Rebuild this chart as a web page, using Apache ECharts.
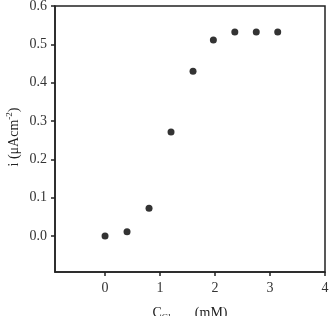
<!DOCTYPE html>
<html>
<head>
<meta charset="utf-8">
<script src="https://cdn.jsdelivr.net/npm/echarts@6/dist/echarts.min.js"></script>
<style>
html, body { margin: 0; padding: 0; background: #fff; }
#cn { width: 333px; height: 316px; }
</style>
</head>
<body>
<div id="cn"></div>
<script>
'use strict';

// glucose concentration (mM) and current (uA cm-2)
const concGlucose = [0, 0.4, 0.8, 1.2, 1.6, 1.97, 2.36, 2.75, 3.14];
const currentVals = [0, 0.011, 0.072, 0.271, 0.43, 0.511, 0.532, 0.532, 0.532];
const xTicks = [0, 1, 2, 3, 4];
const yTicks = [0, 0.1, 0.2, 0.3, 0.4, 0.5, 0.6];

const FONT = '"Liberation Serif", "DejaVu Serif", serif';

const chart = echarts.init(document.getElementById('cn'));

const option = {
	animation: false,
	grid: {
		left: 55,
		top: 6,
		right: 8,
		bottom: 44,
		outerBoundsMode: 'none',
		containLabel: false,
		show: true,
		borderColor: '#222',
		borderWidth: 1.5
	},
	// y title as free text: axis name gets pushed away from the labels in v6
	graphic: [{
		type: 'text',
		x: 14,
		y: 137,
		rotation: Math.PI / 2,
		style: {
			text: '{a|i (μAcm}{sup|-2}{a|)}',
			align: 'center',
			verticalAlign: 'middle',
			rich: {
				a: { fontFamily: FONT, fontSize: 14, fill: '#222' },
				sup: { fontFamily: FONT, fontSize: 9, fill: '#222', padding: [0, 0, 8, 0] }
			}
		}
	}],
	xAxis: {
		type: 'value',
		min: -0.91,
		max: 4,
		splitLine: { show: false },
		axisLine: { onZero: false, lineStyle: { color: '#222', width: 1.5 } },
		axisTick: { customValues: xTicks, length: 4, lineStyle: { color: '#222', width: 1.5 } },
		axisLabel: {
			customValues: xTicks,
			margin: 9,
			color: '#333',
			fontFamily: FONT,
			fontSize: 14
		},
		name: '{a|C}{sub|Glucose}{a| (mM)}',
		nameLocation: 'middle',
		nameGap: 33,
		nameTextStyle: {
			rich: {
				a: { fontFamily: FONT, fontSize: 14, color: '#222' },
				sub: { fontFamily: FONT, fontSize: 9, color: '#222', padding: [8, 0, 0, 0] }
			}
		}
	},
	yAxis: {
		type: 'value',
		min: -0.094,
		max: 0.6,
		splitLine: { show: false },
		axisLine: { onZero: false, lineStyle: { color: '#222', width: 1.5 } },
		axisTick: { customValues: yTicks, length: 4, lineStyle: { color: '#222', width: 1.5 } },
		axisLabel: {
			customValues: yTicks,
			margin: 8,
			color: '#333',
			fontFamily: FONT,
			fontSize: 14,
			formatter: v => v.toFixed(1)
		}
	},
	series: [{
		type: 'scatter',
		symbol: 'circle',
		symbolSize: 7,
		itemStyle: { color: '#000' },
		data: concGlucose.map((c, i) => [c, currentVals[i]])
	}]
};

chart.setOption(option);
</script>
</body>
</html>
